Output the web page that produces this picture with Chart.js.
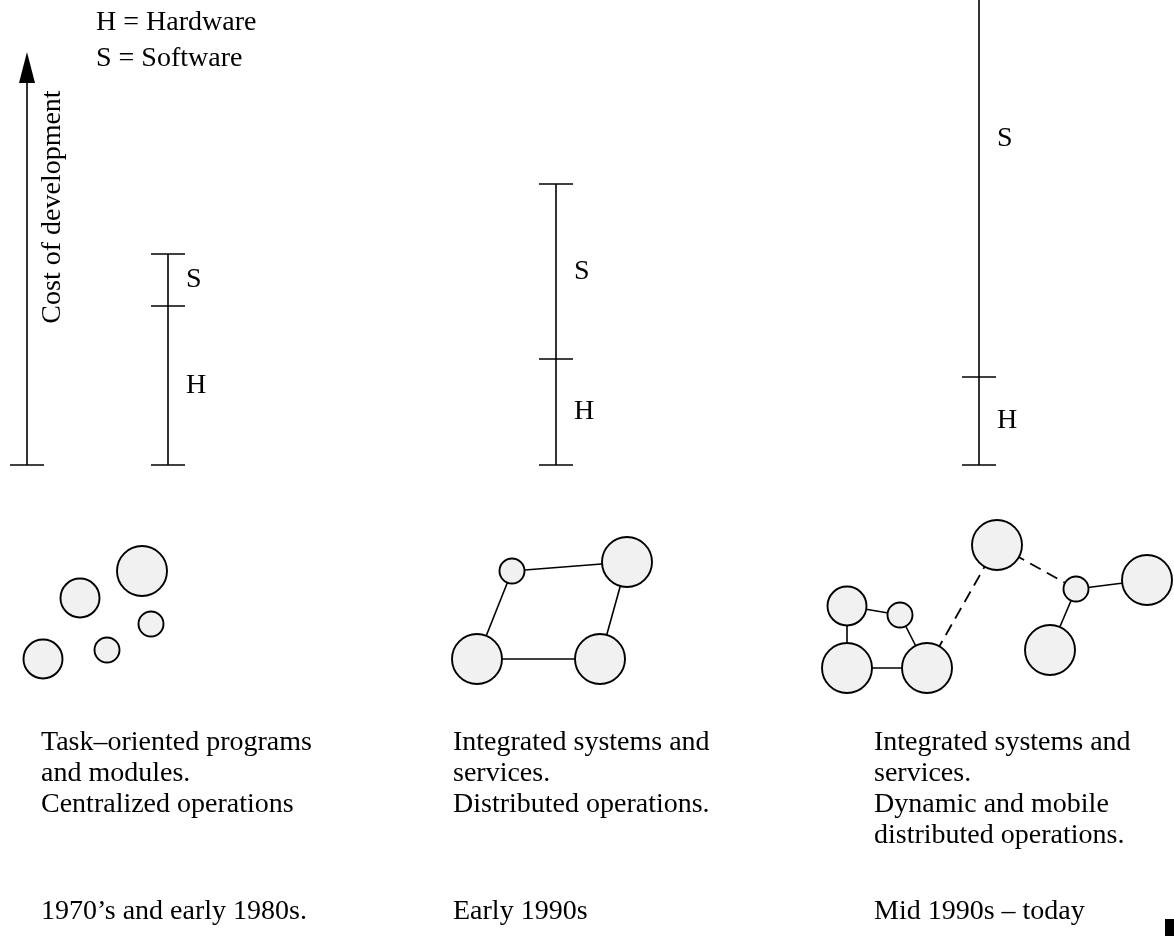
<!DOCTYPE html>
<html>
<head>
<meta charset="utf-8">
<script src="https://cdn.jsdelivr.net/npm/chart.js@4.4.1/dist/chart.umd.min.js"></script>
<style>
  html, body { margin: 0; padding: 0; background: #fff; }
  canvas { display: block; }
</style>
</head>
<body>
<canvas id="chart" width="1174" height="936"></canvas>
<script>
// --- data ---
const eras = ['1970\u2019s and early 1980s.', 'Early 1990s', 'Mid 1990s \u2013 today'];
const descriptions = [
  ['Task\u2013oriented programs', 'and modules.', 'Centralized operations'],
  ['Integrated systems and', 'services.', 'Distributed operations.'],
  ['Integrated systems and', 'services.', 'Dynamic and mobile', 'distributed operations.']
];
const hardwareCost = [159, 106, 88];
const softwareCost = [52, 175, 476];
const eraX = [168, 556, 979];
const textX = [41, 453, 874];
const costArrowTop = 413;

// network sketch nodes [x, y, radius] and links [from, to, dashed]
const nodeX = [142, 80, 151, 107, 43,   512, 627, 477, 600,   997, 1076, 1147, 1050, 847, 900, 847, 927];
const nodeY = [571, 598, 624, 650, 659, 571, 562, 659, 659,   545, 589, 580, 650, 606, 615, 668, 668];
const nodeR = [25, 19.5, 12.5, 12.5, 19.5, 12.5, 25, 25, 25,  25, 12.5, 25, 25, 19.5, 12.5, 25, 25];
const links = [
  [5, 6, false], [5, 7, false], [7, 8, false], [6, 8, false],
  [13, 14, false], [13, 15, false], [15, 16, false], [14, 16, false],
  [16, 9, true], [9, 10, true], [10, 11, false], [10, 12, false]
];

const FONT = '28px "Liberation Serif", "Times New Roman", serif';
const TICK = 17;

function seg(points, yAxisID, dash) {
  return {
    type: 'line', data: points, yAxisID: yAxisID,
    borderColor: '#000', borderWidth: dash ? 1.8 : 1.6, borderDash: dash || [],
    pointRadius: 0, fill: false, tension: 0, order: 2
  };
}

function blockImage(w, h, draw) {
  const c = document.createElement('canvas');
  c.width = w; c.height = h;
  draw(c.getContext('2d'), w, h);
  return c;
}

const arrowHead = blockImage(16, 31, (g, w, h) => {
  g.fillStyle = '#000';
  g.beginPath(); g.moveTo(w / 2, 0); g.lineTo(w, h); g.lineTo(0, h); g.closePath(); g.fill();
});
const cornerMark = blockImage(9, 17, (g, w, h) => { g.fillStyle = '#000'; g.fillRect(0, 0, w, h); });

const datasets = [];

// network nodes (drawn on top of links)
datasets.push({
  type: 'bubble', yAxisID: 'yl', order: 1, clip: false,
  data: nodeX.map((x, i) => ({ x: x, y: nodeY[i], r: nodeR[i] })),
  backgroundColor: '#f1f1f1', borderColor: '#000', borderWidth: 1.9
});
links.forEach(l => {
  datasets.push(seg([{ x: nodeX[l[0]], y: nodeY[l[0]] }, { x: nodeX[l[1]], y: nodeY[l[1]] }], 'yl', l[2] ? [12, 7] : null));
});

// cost axis arrow
datasets.push(seg([{ x: 27, y: 0 }, { x: 27, y: costArrowTop - 14 }], 'y'));
datasets.push(seg([{ x: 27 - TICK, y: 0 }, { x: 27 + TICK, y: 0 }], 'y'));
datasets.push({
  type: 'scatter', yAxisID: 'y', order: 0,
  data: [{ x: 27, y: costArrowTop - 15.5 }],
  pointStyle: arrowHead, pointRadius: 1
});

// H / S stacks
eraX.forEach((x, i) => {
  const levels = [0, hardwareCost[i], hardwareCost[i] + softwareCost[i]];
  datasets.push(seg([{ x: x, y: 0 }, { x: x, y: levels[2] }], 'y'));
  levels.forEach(v => datasets.push(seg([{ x: x - TICK, y: v }, { x: x + TICK, y: v }], 'y')));
});

datasets.push({
  type: 'scatter', yAxisID: 'yl', order: 0, clip: false,
  data: [{ x: 1169.5, y: 927.5 }],
  pointStyle: cornerMark, pointRadius: 1
});

const textPlugin = {
  id: 'diagramText',
  afterDatasetsDraw(chart) {
    const ctx = chart.ctx;
    const sx = chart.scales.x, sy = chart.scales.y, sl = chart.scales.yl;
    ctx.save();
    ctx.fillStyle = '#000';
    ctx.font = FONT;
    ctx.textBaseline = 'middle';
    ctx.textAlign = 'left';

    ctx.fillText('H = Hardware', sx.getPixelForValue(96), sl.getPixelForValue(23));
    ctx.fillText('S = Software', sx.getPixelForValue(96), sl.getPixelForValue(59));

    eraX.forEach((x, i) => {
      const px = sx.getPixelForValue(x + 18);
      ctx.fillText('H', px, sy.getPixelForValue(hardwareCost[i] / 2));
      ctx.fillText('S', px, sy.getPixelForValue(hardwareCost[i] + softwareCost[i] / 2));
      const tx = sx.getPixelForValue(textX[i]);
      descriptions[i].forEach((line, k) => {
        ctx.fillText(line, tx, sl.getPixelForValue(743 + k * 31));
      });
      ctx.fillText(eras[i], tx, sl.getPixelForValue(912));
    });

    ctx.translate(sx.getPixelForValue(53), sl.getPixelForValue(207));
    ctx.rotate(-Math.PI / 2);
    ctx.textAlign = 'center';
    ctx.fillText('Cost of development', 0, 0);
    ctx.restore();
  }
};

new Chart(document.getElementById('chart'), {
  type: 'scatter',
  data: { datasets: datasets },
  options: {
    responsive: false,
    animation: false,
    layout: { padding: 0, autoPadding: false },
    plugins: { legend: { display: false }, tooltip: { enabled: false } },
    scales: {
      x: { type: 'linear', min: 0, max: 1174, display: false },
      y: { type: 'linear', min: -471, max: 465, display: false },
      yl: { type: 'linear', min: 0, max: 936, reverse: true, display: false }
    }
  },
  plugins: [textPlugin]
});
</script>
</body>
</html>
